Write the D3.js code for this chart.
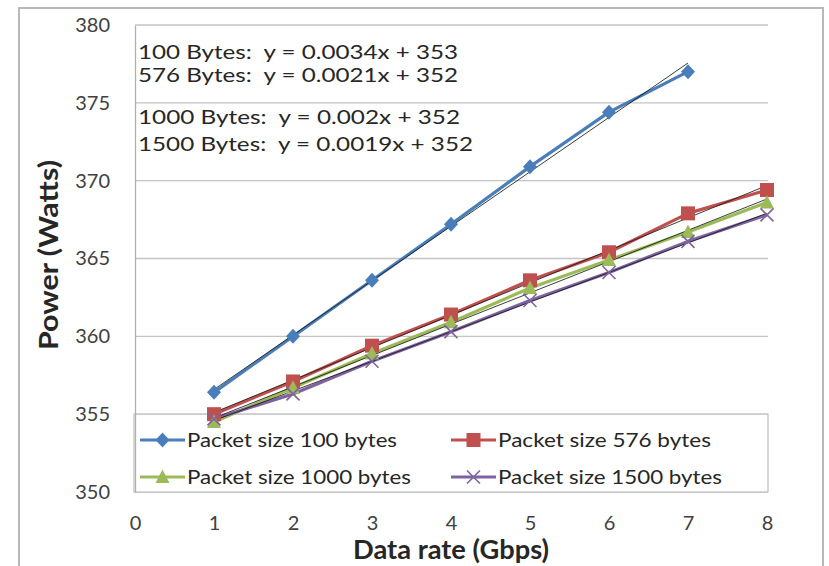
<!DOCTYPE html>
<html>
<head>
<meta charset="utf-8">
<script src="https://cdn.jsdelivr.net/npm/d3@7"></script>
<style>
  body { margin: 0; background: #fff; }
  svg { font-family: Lato, "Open Sans", sans-serif; }
  text { white-space: pre; }
</style>
</head>
<body>
<svg width="829" height="566"></svg>
<script>
const rates = [1, 2, 3, 4, 5, 6, 7, 8];
const p100 = [356.4, 360.0, 363.6, 367.2, 370.9, 374.4, 377.0];
const p576 = [355.0, 357.1, 359.4, 361.4, 363.6, 365.4, 367.9, 369.4];
const p1000 = [354.5, 356.7, 358.9, 360.9, 363.1, 364.9, 366.7, 368.6];
const p1500 = [354.7, 356.3, 358.4, 360.3, 362.3, 364.1, 366.1, 367.8];
const seriesNames = ["Packet size 100 bytes", "Packet size 576 bytes", "Packet size 1000 bytes", "Packet size 1500 bytes"];
const equations = [
  "100 Bytes:  y = 0.0034x + 353",
  "576 Bytes:  y = 0.0021x + 352",
  "1000 Bytes:  y = 0.002x + 352",
  "1500 Bytes:  y = 0.0019x + 352"
];
const xTicks = [0, 1, 2, 3, 4, 5, 6, 7, 8];
const yTicks = [350, 355, 360, 365, 370, 375, 380];

const colors = ["#4a7ebb", "#c0504d", "#9bbb59", "#7f63a1"];
const shapes = ["diamond", "square", "triangle", "cross"];

const svg = d3.select("svg");

// outer frame
svg.append("rect")
    .attr("x", 19).attr("y", 8)
    .attr("width", 804).attr("height", 600)
    .attr("fill", "none")
    .attr("stroke", "#b8b8b8")
    .attr("stroke-width", 2);

const x = d3.scaleLinear().domain([0, 8]).range([135, 767]);
const y = d3.scaleLinear().domain([350, 380]).range([492, 25]);

// gridlines
svg.append("g")
    .selectAll("line")
    .data(yTicks)
    .enter().append("line")
    .attr("x1", x(0)).attr("x2", x(8) + 1)
    .attr("y1", d => y(d)).attr("y2", d => y(d))
    .attr("stroke", "#c4c4c4")
    .attr("stroke-width", 1.3);

// legend box (under the series)
const legend = svg.append("g");
legend.append("rect")
    .attr("x", x(0) - 1).attr("y", y(355))
    .attr("width", x(8) - x(0) + 2).attr("height", y(350) - y(355))
    .attr("fill", "#fff")
    .attr("stroke", "#c4c4c4")
    .attr("stroke-width", 1.3);

// y axis
const yAxis = svg.append("g")
    .attr("transform", `translate(${x(0)},0)`)
    .call(d3.axisLeft(y).tickValues(yTicks).tickSize(0).tickPadding(25));
yAxis.select(".domain").attr("stroke", "#b0b0b0").attr("stroke-width", 1.3);
yAxis.selectAll("text")
    .attr("font-size", 20)
    .attr("fill", "#404040")
    .attr("font-family", "Lato, sans-serif");

// x axis
const xAxis = svg.append("g")
    .attr("transform", `translate(0,${y(350)})`)
    .call(d3.axisBottom(x).tickValues(xTicks).tickSize(0).tickPadding(24));
xAxis.select(".domain").remove();
xAxis.selectAll("text")
    .attr("font-size", 20)
    .attr("fill", "#404040")
    .attr("font-family", "Lato, sans-serif");

// axis titles
svg.append("text")
    .attr("x", 353).attr("y", 559)
    .attr("font-size", 26)
    .attr("font-weight", "bold")
    .attr("fill", "#262626")
    .attr("textLength", 196)
    .attr("lengthAdjust", "spacingAndGlyphs")
    .text("Data rate (Gbps)");

svg.append("text")
    .attr("transform", "translate(58,350) rotate(-90)")
    .attr("font-size", 27)
    .attr("font-weight", "bold")
    .attr("fill", "#262626")
    .attr("textLength", 190)
    .attr("lengthAdjust", "spacingAndGlyphs")
    .text("Power (Watts)");

// equations
const eqBase = [59, 82, 124, 151];
const eqWidth = [320, 320, 322, 335];
svg.append("g")
    .selectAll("text")
    .data(equations)
    .enter().append("text")
    .attr("x", 138)
    .attr("y", (d, i) => eqBase[i])
    .attr("font-size", 20)
    .attr("fill", "#262626")
    .attr("textLength", (d, i) => eqWidth[i])
    .attr("lengthAdjust", "spacingAndGlyphs")
    .text(d => d);

const allSeries = [p100, p576, p1000, p1500];
const line = d3.line().x(d => x(d[0])).y(d => y(d[1]));

function marker(g, shape, color, cx, cy) {
  if (shape === "diamond") {
    g.append("path")
      .attr("d", `M${cx},${cy - 7.5}L${cx + 7},${cy}L${cx},${cy + 7.5}L${cx - 7},${cy}Z`)
      .attr("fill", color);
  } else if (shape === "square") {
    g.append("rect")
      .attr("x", cx - 7).attr("y", cy - 7)
      .attr("width", 14).attr("height", 14)
      .attr("fill", color);
  } else if (shape === "triangle") {
    g.append("path")
      .attr("d", `M${cx},${cy - 7.5}L${cx + 7},${cy + 6}L${cx - 7},${cy + 6}Z`)
      .attr("fill", color);
  } else {
    g.append("path")
      .attr("d", `M${cx - 6.5},${cy - 6.5}L${cx + 6.5},${cy + 6.5}M${cx - 6.5},${cy + 6.5}L${cx + 6.5},${cy - 6.5}`)
      .attr("stroke", color)
      .attr("stroke-width", 1.6)
      .attr("fill", "none");
  }
}

const plot = svg.append("g");
allSeries.forEach((vals, i) => {
  const pts = vals.map((v, j) => [rates[j], v]);
  plot.append("path")
      .datum(pts)
      .attr("d", line)
      .attr("fill", "none")
      .attr("stroke", colors[i])
      .attr("stroke-width", 3.2)
      .attr("stroke-linejoin", "round");
});

// linear trendlines (least squares from the points)
allSeries.forEach((vals, i) => {
  const xs = vals.map((v, j) => rates[j]);
  const mx = d3.mean(xs), my = d3.mean(vals);
  const slope = d3.sum(xs, (xv, j) => (xv - mx) * (vals[j] - my)) / d3.sum(xs, xv => (xv - mx) * (xv - mx));
  const icpt = my - slope * mx;
  const ends = [xs[0], xs[xs.length - 1]].map(xv => [xv, icpt + slope * xv]);
  plot.append("path")
      .datum(ends)
      .attr("d", line)
      .attr("fill", "none")
      .attr("stroke", "#1a1a1a")
      .attr("stroke-width", 1)
      .attr("opacity", 0.85);
});

allSeries.forEach((vals, i) => {
  const g = plot.append("g");
  vals.forEach((v, j) => marker(g, shapes[i], colors[i], x(rates[j]), y(v)));
});

// legend entries
const legendPos = [[140, 440], [451, 440], [140, 477], [451, 477]];
const legendWidth = [210, 213, 224, 224];
seriesNames.forEach((name, i) => {
  const [lx, ly] = legendPos[i];
  const g = legend.append("g");
  g.append("line")
      .attr("x1", lx).attr("x2", lx + 45)
      .attr("y1", ly).attr("y2", ly)
      .attr("stroke", colors[i])
      .attr("stroke-width", 3.2);
  marker(g, shapes[i], colors[i], lx + 22.5, ly);
  g.append("text")
      .attr("x", lx + 47).attr("y", ly + 7)
      .attr("font-size", 20)
      .attr("fill", "#262626")
      .attr("textLength", legendWidth[i])
      .attr("lengthAdjust", "spacingAndGlyphs")
      .text(name);
});
</script>
</body>
</html>
